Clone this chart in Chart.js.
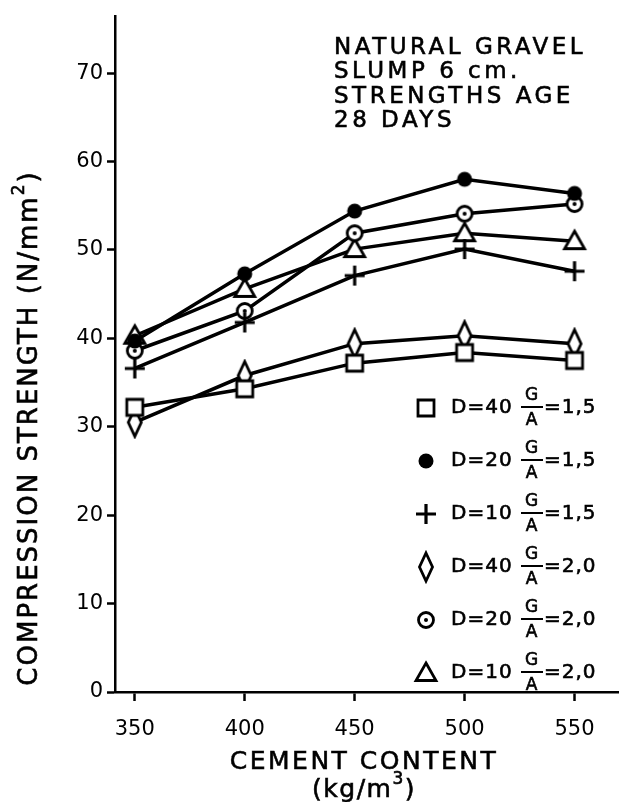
<!DOCTYPE html>
<html>
<head>
<meta charset="utf-8">
<script src="https://cdn.jsdelivr.net/npm/chart.js@4.4.1/dist/chart.umd.min.js"></script>
<style>
  body { margin: 0; background: #fff; }
  #wrap { width: 630px; height: 802px; }
</style>
</head>
<body>
<div id="wrap"><canvas id="chart" width="630" height="802"></canvas></div>
<script>
const cementContent = [350, 400, 450, 500, 550];
const d40ga15 = [32.2, 34.3, 37.2, 38.4, 37.5];
const d20ga15 = [39.7, 47.3, 54.4, 58.0, 56.4];
const d10ga15 = [36.6, 41.8, 47.1, 50.1, 47.6];
const d40ga20 = [30.5, 35.8, 39.4, 40.3, 39.4];
const d20ga20 = [38.6, 43.1, 51.9, 54.1, 55.2];
const d10ga20 = [40.3, 45.6, 50.1, 51.9, 51.0];

const legendD = ['40', '20', '10', '40', '20', '10'];
const legendRatio = ['1,5', '1,5', '1,5', '2,0', '2,0', '2,0'];
const noteLines = ['NATURAL GRAVEL', 'SLUMP 6 cm.', 'STRENGTHS AGE', '28 DAYS'];

const FONT = '"DejaVu Sans", sans-serif';

function makeMarker(kind) {
    const c = document.createElement('canvas');
    c.width = 30;
    c.height = 34;
    const ctx = c.getContext('2d');
    const cx = 15, cy = 17;
    ctx.strokeStyle = '#000';
    ctx.fillStyle = '#fff';
    ctx.lineWidth = 2.8;
    ctx.beginPath();
    switch (kind) {
        case 'square':
            ctx.rect(cx - 8, cy - 8, 16, 16);
            ctx.fill(); ctx.stroke();
            break;
        case 'dot':
            ctx.arc(cx, cy, 7.5, 0, Math.PI * 2);
            ctx.fillStyle = '#000';
            ctx.fill();
            break;
        case 'cross':
            ctx.lineWidth = 3.2;
            ctx.moveTo(cx - 10, cy); ctx.lineTo(cx + 10, cy);
            ctx.moveTo(cx, cy - 10); ctx.lineTo(cx, cy + 10);
            ctx.stroke();
            break;
        case 'diamond':
            ctx.moveTo(cx, cy - 14); ctx.lineTo(cx + 6.5, cy);
            ctx.lineTo(cx, cy + 14); ctx.lineTo(cx - 6.5, cy);
            ctx.closePath();
            ctx.fill(); ctx.stroke();
            break;
        case 'target':
            ctx.arc(cx, cy, 7.5, 0, Math.PI * 2);
            ctx.fill(); ctx.stroke();
            ctx.beginPath();
            ctx.arc(cx, cy, 2, 0, Math.PI * 2);
            ctx.fillStyle = '#000';
            ctx.fill();
            break;
        case 'triangle':
            ctx.moveTo(cx, cy - 10); ctx.lineTo(cx + 10, cy + 7.5);
            ctx.lineTo(cx - 10, cy + 7.5);
            ctx.closePath();
            ctx.fill(); ctx.stroke();
            break;
    }
    return c;
}

const markers = ['square', 'dot', 'cross', 'diamond', 'target', 'triangle'].map(makeMarker);
const series = [d40ga15, d20ga15, d10ga15, d40ga20, d20ga20, d10ga20];

const datasets = series.map((vals, i) => ({
    label: 'D=' + legendD[i] + ' G/A=' + legendRatio[i],
    data: vals.map((v, j) => ({ x: cementContent[j], y: v })),
    borderColor: '#000',
    borderWidth: 3.5,
    backgroundColor: '#fff',
    pointStyle: markers[i],
    pointRadius: 8,
    tension: 0
}));

// text with a thin outline, to get the heavier lettering of the original
function ink(ctx, t, x, y) {
    ctx.fillText(t, x, y);
    ctx.strokeText(t, x, y);
}

function drawParts(ctx, parts, x, y) {
    // parts: [text, font, dy]; centred on x
    let total = 0;
    parts.forEach(p => { ctx.font = p[1]; total += ctx.measureText(p[0]).width; });
    let cx = x - total / 2;
    ctx.textAlign = 'left';
    parts.forEach(p => {
        ctx.font = p[1];
        ink(ctx, p[0], cx, y + p[2]);
        cx += ctx.measureText(p[0]).width;
    });
}

const extras = {
    id: 'extras',
    afterDraw(chart) {
        const ctx = chart.ctx;
        ctx.save();
        ctx.fillStyle = '#000';
        ctx.strokeStyle = '#000';
        ctx.lineWidth = 0.6;
        ctx.textBaseline = 'middle';

        // note in the top right corner
        ctx.letterSpacing = '3.5px';
        ctx.font = '23px ' + FONT;
        ctx.textAlign = 'left';
        noteLines.forEach((t, i) => ink(ctx, t, 334, 48 + i * 24.5));

        // y axis title
        ctx.save();
        ctx.translate(30, 428);
        ctx.rotate(-Math.PI / 2);
        ctx.letterSpacing = '2px';
        drawParts(ctx, [
            ['COMPRESSION STRENGTH (N/mm', '26px ' + FONT, 0],
            ['2', '17px ' + FONT, -10],
            [')', '26px ' + FONT, 0]
        ], 0, 0);
        ctx.restore();

        // x axis title
        ctx.letterSpacing = '2.5px';
        drawParts(ctx, [['CEMENT CONTENT', '25px ' + FONT, 0]], 364, 762);
        ctx.letterSpacing = '1.5px';
        drawParts(ctx, [
            ['(kg/m', '25px ' + FONT, 0],
            ['3', '17px ' + FONT, -10],
            [')', '25px ' + FONT, 0]
        ], 364, 790);

        // legend
        ctx.letterSpacing = '1px';
        markers.forEach((m, i) => {
            const cy = 408 + i * 53;
            ctx.drawImage(m, 426 - m.width / 2, cy - m.height / 2);
            ctx.textAlign = 'left';
            ctx.lineWidth = 0.6;
            ctx.font = '20px ' + FONT;
            ink(ctx, 'D=' + legendD[i], 451, cy);
            ctx.lineWidth = 2;
            ctx.beginPath();
            ctx.moveTo(521, cy - 1);
            ctx.lineTo(543, cy - 1);
            ctx.stroke();
            ctx.lineWidth = 0.6;
            ctx.textAlign = 'center';
            ctx.font = '17px ' + FONT;
            ink(ctx, 'G', 532, cy - 12);
            ink(ctx, 'A', 532, cy + 13);
            ctx.textAlign = 'left';
            ctx.font = '20px ' + FONT;
            ink(ctx, '=' + legendRatio[i], 544, cy);
        });
        ctx.restore();
    }
};

new Chart(document.getElementById('chart'), {
    type: 'line',
    data: { datasets },
    options: {
        responsive: false,
        animation: false,
        layout: { padding: { top: 15, right: 0, left: 0, bottom: 0 } },
        plugins: { legend: { display: false }, tooltip: { enabled: false } },
        scales: {
            x: {
                type: 'linear',
                min: 341,
                max: 570,
                afterFit(scale) { scale.height = 110; },
                ticks: {
                    stepSize: 50,
                    includeBounds: false,
                    color: '#000',
                    font: { family: FONT, size: 21 },
                    padding: 16
                },
                grid: { drawOnChartArea: false, tickLength: 9, tickWidth: 2.5, color: '#000' },
                border: { color: '#000', width: 2.5 }
            },
            y: {
                min: 0,
                max: 76.4,
                afterFit(scale) { scale.width = 115; },
                ticks: {
                    stepSize: 10,
                    includeBounds: false,
                    color: '#000',
                    font: { family: FONT, size: 21 },
                    padding: 4
                },
                grid: { drawOnChartArea: false, tickLength: 8, tickWidth: 2.5, color: '#000' },
                border: { color: '#000', width: 2.5 }
            }
        }
    },
    plugins: [extras]
});
</script>
</body>
</html>
